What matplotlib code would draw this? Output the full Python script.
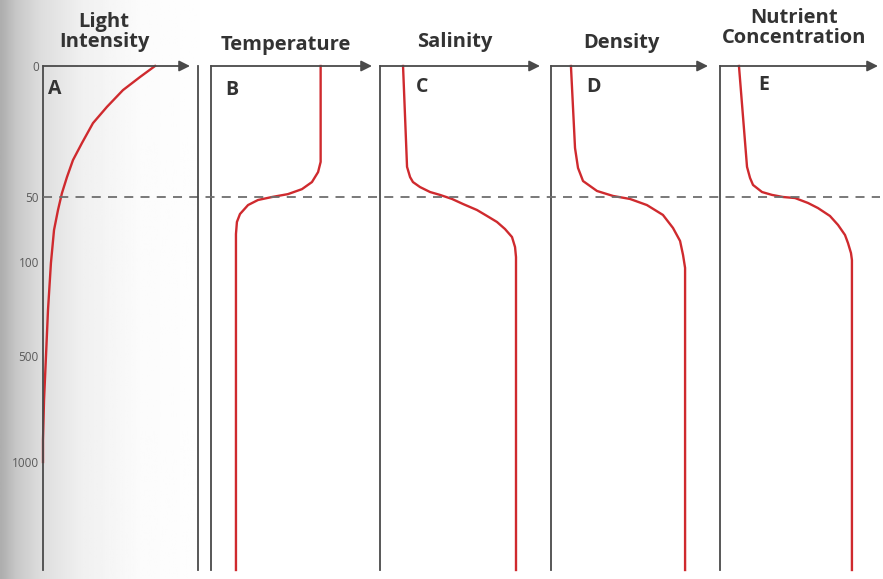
import numpy as np
import matplotlib
matplotlib.use("Agg")
import matplotlib.pyplot as plt
import matplotlib.transforms as mtransforms
from matplotlib.lines import Line2D

# depth ticks shown on the left (m)
depth_ticks = [0, 50, 100, 500, 1000]
depth_labels = ["0", "50", "100", "500", "1000"]

# profiles: depth (m) and relative value (0-100 % of axis width)
light_depth = [0, 4.2, 9.2, 15.6, 21.8, 29.4, 35.9, 42.4, 48.5, 60, 75.4, 104,
               304, 505, 708, 896, 1000]
light_val = [76.2, 66.0, 54.4, 43.5, 34.0, 26.5, 20.4, 16.3, 12.9, 10.2, 7.5, 5.4,
             3.4, 2.0, 0.7, 0.0, 0.0]

temp_depth = [0, 36.6, 40.5, 44.3, 47.0, 48.9, 50.0, 52.3, 56.2, 63.1, 69.2, 78.5, 2000]
temp_val = [68.1, 68.1, 66.5, 62.7, 56.5, 47.8, 37.9, 29.2, 23.0, 18.0, 16.1, 15.5, 15.5]

sal_depth = [0, 38.5, 42.4, 44.3, 46.2, 48.1, 49.2, 51.5, 55.4, 60, 64.6, 69.2, 74.6,
             80.8, 88.5, 96.2, 2000]
sal_val = [14.4, 16.9, 18.8, 20.6, 25.0, 31.3, 37.5, 45.0, 51.9, 60.6, 66.9, 73.1, 78.1,
           82.5, 84.4, 85.0, 85.0]

dens_depth = [0, 31.3, 38.9, 43.9, 47.7, 49.6, 51.5, 56.2, 63.8, 73.8, 83.8, 94.6,
              125, 2000]
dens_val = [12.7, 15.3, 17.2, 20.4, 29.3, 39.5, 50.3, 61.1, 71.3, 77.7, 82.2, 84.1,
            85.4, 85.4]

nutr_depth = [0, 38.5, 42.7, 45.4, 48.1, 49.2, 50.0, 50.8, 54.6, 58.5, 64.6, 71.5, 79.2,
              85.4, 93.1, 98.5, 2000]
nutr_val = [12.0, 17.1, 19.0, 20.9, 26.6, 32.9, 39.9, 47.5, 55.7, 62.0, 69.6, 74.7, 79.1,
            81.0, 82.9, 83.5, 83.5]

titles = ["Light\nIntensity", "Temperature", "Salinity", "Density",
          "Nutrient\nConcentration"]
letters = ["A", "B", "C", "D", "E"]
profiles = [(light_depth, light_val), (temp_depth, temp_val),
            (sal_depth, sal_val), (dens_depth, dens_val),
            (nutr_depth, nutr_val)]

W, H = 883, 579
# panel geometry in pixels: axis x, arrow tip x
panel_x = [(43, 190), (211, 372), (380, 540), (551, 708), (720, 878)]
top_px, bot_px = 66, 570
title_pos = [(104, 32), (286, 45), (455, 42), (621, 43), (794, 28)]
letter_pos = [(55, 89), (232, 90), (422, 87), (593, 87), (764, 85)]

# nonlinear depth axis (as printed)
knots = [0, 50, 100, 500, 1000, 2000]
offs = [0, 131, 196, 290, 396, 504]
fwd = lambda d: np.interp(d, knots, offs)
inv = lambda p: np.interp(p, offs, knots)

red = "#cf2a2e"
axc = "#4a4a4a"
txt = "#333333"
plt.rcParams["font.family"] = ["Open Sans", "DejaVu Sans"]

fig = plt.figure(figsize=(W / 100, H / 100), dpi=100)

# page shadow on the left of the scan
bg = fig.add_axes([0, 0, 1, 1], zorder=-5)
xs = np.linspace(0, 1, 400)
shade = np.interp(xs * W, [0, 15, 40, 80, 140, 220], [0.68, 0.78, 0.87, 0.94, 0.985, 1.0])
bg.imshow(np.tile(shade, (2, 1)), cmap="gray", vmin=0, vmax=1, aspect="auto",
          extent=[0, 1, 0, 1])
bg.set_axis_off()

axes = []
for i, ((x0, x1), (dep, val)) in enumerate(zip(panel_x, profiles)):
    ax = fig.add_axes([x0 / W, (H - bot_px) / H, (x1 - x0) / W, (bot_px - top_px) / H])
    ax.set_facecolor("none")
    ax.set_yscale("function", functions=(fwd, inv))
    ax.set_ylim(2000, 0)
    ax.set_xlim(0, 100)
    for s in ["top", "right", "bottom"]:
        ax.spines[s].set_visible(False)
    ax.spines["left"].set_color(axc)
    ax.spines["left"].set_linewidth(1.3)
    ax.set_xticks([])
    ax.set_yticks([])
    ax.annotate("", xy=(1, 1), xytext=(0, 1), xycoords="axes fraction",
                arrowprops=dict(arrowstyle="-|>", color=axc, lw=1.3,
                                mutation_scale=16, shrinkA=0, shrinkB=0),
                annotation_clip=False)
    ax.plot(val, dep, color=red, lw=1.7, clip_on=False, solid_joinstyle="round")
    tx, ty = title_pos[i]
    fig.text(tx / W, 1 - ty / H, titles[i], ha="center", va="center",
             fontsize=14.5, fontweight="bold", color=txt, linespacing=0.95)
    lx, ly = letter_pos[i]
    fig.text(lx / W, 1 - ly / H, letters[i], ha="center", va="center",
             fontsize=14, fontweight="bold", color=txt)
    axes.append(ax)

axA = axes[0]
axA.set_yticks(depth_ticks)
axA.set_yticklabels(depth_labels)
axA.tick_params(axis="y", length=0, pad=3, labelsize=8.5, labelcolor="#5a5a5a")
axA.minorticks_off()

# mixed-layer dashed line across all panels
blend = mtransforms.blended_transform_factory(fig.transFigure, axA.transData)
fig.add_artist(Line2D([43 / W, 880 / W], [50, 50], transform=blend, color="#6e6e6e",
                      lw=1.3, linestyle=(0, (5, 4))))

# frame line between panel A and B
fig.add_artist(Line2D([198 / W, 198 / W], [1 - bot_px / H, 1 - top_px / H],
                      transform=fig.transFigure, color=axc, lw=1.3))

fig.savefig("out.png", dpi=100)
